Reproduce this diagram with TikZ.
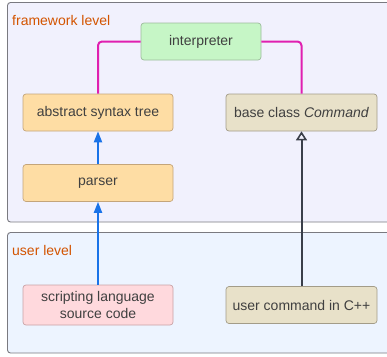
\documentclass[tikz,border=0pt]{standalone}
\usepackage{fontspec}
\setmainfont{Liberation Sans}
\usetikzlibrary{arrows.meta}
\definecolor{txt}{HTML}{404040}
\definecolor{lbl}{HTML}{D35400}
\definecolor{fwbg}{HTML}{F1F1FD}
\definecolor{usbg}{HTML}{EDF4FF}
\definecolor{cbord}{HTML}{7A7A80}
\definecolor{grfill}{HTML}{C6F6C6}
\definecolor{grbord}{HTML}{9CBC9C}
\definecolor{orfill}{HTML}{FEDDA4}
\definecolor{orbord}{HTML}{C4A57A}
\definecolor{bgfill}{HTML}{E8E1C9}
\definecolor{bgbord}{HTML}{A39C88}
\definecolor{pkfill}{HTML}{FFD9DD}
\definecolor{pkbord}{HTML}{C9A3A7}
\definecolor{mag}{HTML}{E020B0}
\definecolor{blu}{HTML}{1A73E8}
\definecolor{blk}{HTML}{3A3F4A}
\tikzset{
  container/.style={draw=cbord, line width=0.9pt, rounded corners=3pt},
  box/.style={draw, rounded corners=3pt, line width=0.7pt, text=txt, font=\fontsize{14}{16.5}\selectfont, align=center, inner sep=0pt},
  grbox/.style={box, fill=grfill, draw=grbord, minimum width=120pt, minimum height=37pt},
  orbox/.style={box, fill=orfill, draw=orbord, minimum width=150pt, minimum height=37pt},
  bgbox/.style={box, fill=bgfill, draw=bgbord, minimum width=151pt, minimum height=37pt},
  pkbox/.style={box, fill=pkfill, draw=pkbord, minimum width=150pt, minimum height=40pt},
  grouplabel/.style={text=lbl, font=\fontsize{14}{16.5}\selectfont, anchor=west, inner sep=0pt},
  magline/.style={draw=mag, line width=2pt, rounded corners=4pt},
  bluarrow/.style={draw=blu, line width=2pt, -{Triangle[length=11pt,width=8pt]}},
  inhline/.style={draw=blk, line width=2pt, -{Triangle[open, length=9pt, width=11pt, line width=1.6pt]}}
}
\begin{document}
\begin{tikzpicture}[x=1pt,y=-1pt]
\useasboundingbox (0,0) rectangle (387,356);
\clip (0,0) rectangle (387,356);
% containers
\path[container, fill=fwbg] (7.5,2.5) rectangle (400,222);
\path[container, fill=usbg] (7.5,232.5) rectangle (400,353);
\node[grouplabel] (fwl) at (12,20) {framework level};
\node[grouplabel] (usl) at (12,250) {user level};
% nodes
\node[grbox] (interp) at (201,41.5) {interpreter};
\node[orbox] (ast) at (98,112.5) {abstract syntax tree};
\node[bgbox] (base) at (301.5,112.5) {base class \textit{Command}};
\node[orbox] (parser) at (98,183) {parser};
\node[pkbox] (script) at (98,305) {scripting language\\[1pt]source code};
\node[bgbox] (ucmd) at (301.5,305) {user command in C++};
% connectors
\draw[magline] (ast.north) |- (interp.west);
\draw[magline] (interp.east) -| (base.north);
\draw[bluarrow] (parser.north) -- (ast.south);
\draw[bluarrow] (script.north) -- (parser.south);
\draw[inhline] (ucmd.north) -- (base.south);
\end{tikzpicture}
\end{document}
